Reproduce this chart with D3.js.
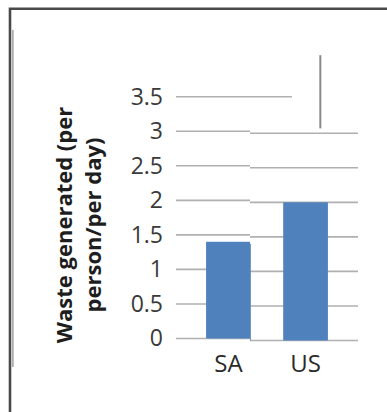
<!DOCTYPE html>
<html>
<head>
<meta charset="utf-8">
<script src="https://cdn.jsdelivr.net/npm/d3@7"></script>
<style>
  html, body { margin: 0; padding: 0; background: #fff; }
  svg { display: block; }
</style>
</head>
<body>
<svg id="chart" width="387" height="412"></svg>
<script>
// ---- data ----
const categories = ["SA", "US"];
const values = [1.4, 2.0];
const tickValues = [0, 0.5, 1, 1.5, 2, 2.5, 3, 3.5];
const tickLabels = ["0", "0.5", "1", "1.5", "2", "2.5", "3", "3.5"];
const titleLines = ["Waste generated (per", "person/per day)"];

// ---- layout ----
const W = 387, H = 412;
const plot = { left: 176, right: 358, top: 96.7, bottom: 338.5 };
const splitX = 250;      // right half of the picture is drawn 2px lower
const shiftY = 2;
const barColor = "#4F81BD";
const gridColor = "#b0b0b0";

const svg = d3.select("#chart");
svg.append("rect").attr("width", W).attr("height", H).attr("fill", "#fff");

const y = d3.scaleLinear().domain([0, 3.5]).range([plot.bottom, plot.top]);
const x = d3.scaleBand().domain(categories).range([plot.left, plot.right])
  .paddingInner(0.42).paddingOuter(0.39);

const defs = svg.append("defs");
defs.append("clipPath").attr("id", "clipL").append("rect")
  .attr("x", plot.left - 2).attr("y", 0).attr("width", splitX - plot.left + 2).attr("height", H);
defs.append("clipPath").attr("id", "clipR").append("rect")
  .attr("x", splitX).attr("y", -10).attr("width", plot.right - splitX + 2).attr("height", H);

function drawPlot(g) {
  g.selectAll("line.grid").data(tickValues.filter(v => v < 3.5)).join("line")
    .attr("class", "grid")
    .attr("x1", plot.left).attr("x2", plot.right)
    .attr("y1", d => y(d)).attr("y2", d => y(d))
    .attr("stroke", gridColor).attr("stroke-width", 1.6);
  g.selectAll("rect.bar").data(categories).join("rect")
    .attr("class", "bar")
    .attr("x", d => x(d)).attr("width", x.bandwidth())
    .attr("y", (d, i) => y(values[i]))
    .attr("height", (d, i) => y(0) - y(values[i]))
    .attr("fill", barColor);
}

const gL = svg.append("g").attr("clip-path", "url(#clipL)");
drawPlot(gL);
const gR = svg.append("g").attr("clip-path", "url(#clipR)")
  .append("g").attr("transform", `translate(0,${shiftY})`);
drawPlot(gR);

// top gridline (3.5) only partially drawn
svg.append("line")
  .attr("x1", plot.left).attr("x2", plot.left + (plot.right - plot.left) * 0.637)
  .attr("y1", y(3.5)).attr("y2", y(3.5))
  .attr("stroke", gridColor).attr("stroke-width", 1.6);

// stray vertical line in the right half
const vx = x("US") + x.bandwidth() * 0.83;
svg.append("line")
  .attr("x1", vx).attr("x2", vx)
  .attr("y1", y(4.13) + shiftY).attr("y2", y(3.07) + shiftY)
  .attr("stroke", "#8a8a8a").attr("stroke-width", 2);

// y axis labels
const yAxis = d3.axisLeft(y).tickValues(tickValues)
  .tickFormat((d, i) => tickLabels[i]).tickSize(0).tickPadding(13);
const ya = svg.append("g").attr("transform", `translate(${plot.left},0)`).call(yAxis);
ya.select(".domain").remove();
ya.selectAll("text")
  .attr("font-family", "'Open Sans', sans-serif")
  .attr("font-size", 23).attr("fill", "#3a3a3a");

// x axis labels
const xAxis = d3.axisBottom(x).tickSize(0).tickPadding(16);
const xa = svg.append("g").attr("transform", `translate(0,${plot.bottom})`).call(xAxis);
xa.select(".domain").remove();
xa.selectAll("text")
  .attr("font-family", "'Open Sans', sans-serif")
  .attr("font-size", 24).attr("fill", "#2a2a2a");

// y axis title (two lines, rotated)
const title = svg.append("text")
  .attr("transform", "translate(71.5,225) rotate(-90)")
  .attr("text-anchor", "middle")
  .attr("font-family", "'Open Sans', sans-serif")
  .attr("font-weight", "bold")
  .attr("font-size", 22).attr("fill", "#1e1e1e");
title.selectAll("tspan").data(titleLines).join("tspan")
  .attr("x", 0).attr("dy", (d, i) => i === 0 ? 0 : 29)
  .text(d => d);

// frame of the surrounding document
svg.append("path")
  .attr("d", `M10,${H} L10,8.7 L${W},8.7`)
  .attr("fill", "none").attr("stroke", "#4a4a4a").attr("stroke-width", 2.6);
svg.append("line")
  .attr("x1", 12.9).attr("x2", 12.9).attr("y1", 30).attr("y2", 367)
  .attr("stroke", "#9a9a9a").attr("stroke-width", 1.4);
</script>
</body>
</html>
